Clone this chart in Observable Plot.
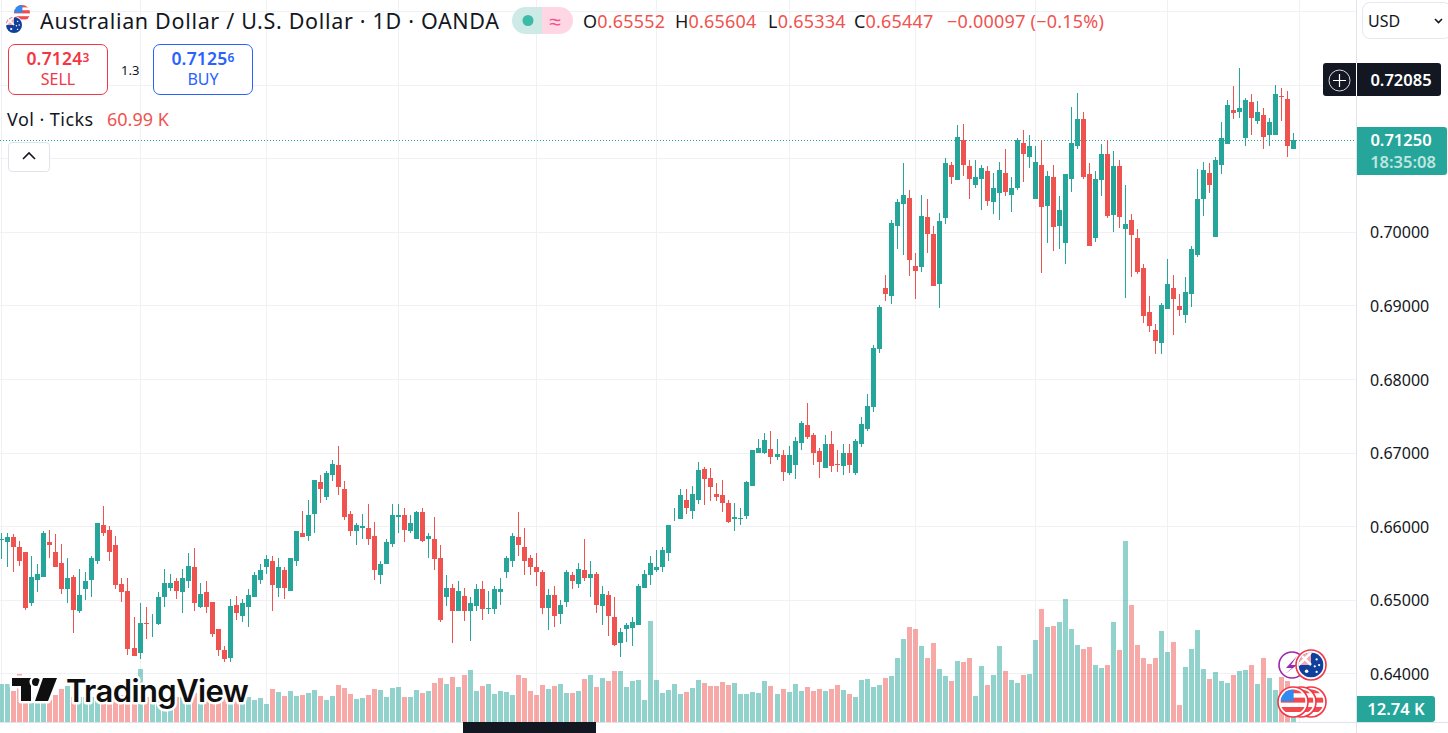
<!DOCTYPE html>
<html><head><meta charset="utf-8">
<script src="https://cdn.jsdelivr.net/npm/d3@7"></script>
<script src="https://cdn.jsdelivr.net/npm/@observablehq/plot@0.6"></script>
<style>
html,body{margin:0;padding:0;background:#fff}
#app{position:relative;width:1448px;height:733px;overflow:hidden;font-family:"Noto Sans",sans-serif;color:#131722}
#app svg.plot{position:absolute;left:0;top:0;background:transparent}
.a{position:absolute;white-space:nowrap;line-height:1}
.box{position:absolute;box-sizing:border-box;background:#fff}
</style></head><body><div id="app"></div>
<script>
// Prices in pips (0.0001), one entry per daily candle, oldest first
const highs=[6591,6590,6589,6580,6565,6559,6549,6593,6595,6589,
6576,6556,6534,6542,6538,6559,6604,6627,6600,6587,
6530,6530,6477,6495,6490,6480,6510,6542,6535,6530,
6542,6564,6570,6523,6525,6497,6460,6437,6501,6505,
6501,6514,6538,6549,6561,6560,6557,6545,6557,6593,
6620,6636,6662,6670,6675,6690,6709,6661,6620,6604,
6616,6630,6605,6552,6582,6630,6630,6625,6615,6621,
6625,6590,6613,6574,6534,6522,6525,6516,6503,6522,
6526,6512,6519,6530,6560,6591,6619,6598,6561,6563,
6541,6514,6519,6500,6541,6538,6550,6582,6552,6538,
6519,6512,6503,6462,6469,6477,6522,6541,6560,6567,
6571,6602,6625,6650,6650,6655,6687,6680,6679,6658,
6662,6636,6632,6625,6661,6703,6718,6726,6729,6719,
6703,6709,6721,6743,6767,6726,6706,6724,6729,6703,
6711,6711,6718,6748,6780,6846,6901,6941,7016,7044,
7094,7056,6971,7050,7044,7008,7026,7100,7095,7145,
7147,7098,7097,7090,7089,7080,7095,7113,7074,7127,
7138,7132,7117,7123,7083,7090,7048,7078,7169,7188,
7162,7093,7083,7119,7125,7109,7098,7063,7024,7004,
6956,6913,6875,6903,6963,6941,6915,6939,6980,7085,
7095,7094,7101,7149,7179,7198,7222,7181,7187,7177,
7168,7155,7200,7195,7191,7134];
const lows=[6555,6544,6538,6546,6486,6492,6511,6531,6557,6544,
6508,6496,6455,6482,6499,6504,6549,6587,6552,6514,
6497,6425,6424,6420,6447,6450,6466,6490,6512,6501,
6482,6516,6484,6489,6482,6450,6424,6415,6415,6473,
6470,6463,6503,6522,6535,6484,6503,6501,6512,6546,
6585,6580,6591,6632,6636,6661,6642,6608,6587,6575,
6582,6575,6527,6522,6548,6572,6590,6578,6590,6583,
6579,6557,6541,6470,6492,6441,6484,6471,6444,6485,
6473,6480,6480,6493,6529,6545,6559,6533,6534,6518,
6481,6459,6463,6467,6490,6515,6516,6525,6504,6482,
6466,6451,6437,6422,6443,6437,6466,6516,6520,6538,
6537,6553,6607,6609,6616,6609,6630,6628,6634,6634,
6619,6604,6593,6602,6609,6655,6699,6698,6684,6690,
6661,6669,6664,6704,6718,6683,6665,6679,6674,6674,
6669,6672,6669,6707,6729,6755,6835,6906,6902,6977,
6969,6940,6909,6945,6971,6926,6896,7011,7065,7070,
7076,7044,7059,7029,7035,7024,7016,7049,7027,7057,
7067,7087,7044,6944,6985,6974,6977,6956,7054,7113,
7072,6980,6986,7049,7019,7000,7005,6910,6939,6943,
6876,6864,6834,6834,6895,6860,6885,6876,6898,6966,
7022,7053,6993,7078,7119,7153,7154,7117,7131,7147,
7112,7116,7131,7151,7102,7112];
const opens=[6581,6578,6585,6572,6565,6496,6527,6531,6579,6565,
6550,6515,6531,6484,6515,6527,6553,6601,6595,6575,
6522,6512,6435,6428,6468,6472,6467,6504,6516,6525,
6510,6526,6545,6490,6511,6497,6460,6432,6421,6493,
6478,6490,6503,6527,6545,6552,6516,6540,6512,6552,
6590,6586,6617,6660,6640,6669,6683,6651,6617,6594,
6598,6598,6586,6534,6549,6576,6613,6615,6594,6583,
6619,6582,6583,6557,6504,6516,6485,6505,6484,6492,
6515,6488,6488,6510,6538,6552,6585,6571,6556,6545,
6537,6489,6507,6480,6497,6534,6522,6541,6529,6535,
6492,6507,6476,6441,6460,6462,6466,6516,6533,6540,
6544,6563,6609,6610,6636,6620,6636,6677,6666,6644,
6642,6632,6609,6610,6614,6655,6699,6700,6705,6694,
6696,6672,6683,6713,6737,6724,6702,6679,6711,6684,
6681,6699,6672,6711,6732,6762,6840,6924,6913,7008,
7037,7046,6954,6952,7020,6997,6929,7019,7090,7070,
7124,7089,7064,7071,7083,7041,7053,7080,7050,7060,
7121,7102,7045,7091,7035,7074,7008,6985,7072,7117,
7153,7079,6992,7070,7105,7023,7089,7003,7016,6992,
6951,6891,6866,6849,6895,6924,6899,6887,6915,6969,
7044,7080,6993,7091,7119,7165,7162,7127,7176,7150,
7158,7132,7131,7184,7180,7112];
const closes=[6583,6585,6571,6553,6489,6531,6535,6590,6575,6545,
6514,6529,6486,6507,6525,6556,6604,6590,6565,6520,
6510,6433,6424,6469,6467,6473,6504,6523,6523,6512,
6530,6546,6495,6508,6490,6454,6432,6420,6492,6482,
6495,6507,6533,6540,6555,6520,6545,6516,6557,6593,
6585,6615,6662,6650,6672,6685,6653,6612,6593,6601,
6600,6583,6540,6548,6578,6615,6615,6595,6604,6619,
6580,6587,6555,6473,6516,6485,6512,6484,6496,6514,
6488,6489,6514,6515,6557,6586,6574,6553,6544,6537,
6489,6507,6478,6493,6537,6526,6542,6530,6535,6493,
6508,6478,6439,6456,6466,6470,6519,6535,6550,6545,
6567,6602,6610,6642,6624,6643,6676,6664,6653,6640,
6632,6606,6613,6611,6660,6703,6706,6717,6694,6698,
6673,6696,6715,6740,6721,6699,6687,6711,6681,6683,
6700,6683,6715,6739,6763,6842,6898,6915,7012,7041,
7050,6962,6947,7022,6997,6926,7014,7094,7074,7128,
7090,7072,7074,7086,7042,7059,7084,7054,7059,7124,
7105,7116,7095,7033,7076,7007,7030,7078,7120,7153,
7075,6980,7072,7105,7022,7089,7020,7011,6996,6945,
6885,6872,6851,6900,6929,6909,6894,6918,6977,7044,
7084,7063,7097,7127,7172,7161,7168,7179,7154,7162,
7128,7149,7187,7183,7116,7125];
// Tick volume, thousands
const volumes=[74.8,74.8,61.7,94.5,66.3,49.9,53.1,56.4,43.3,53.1,
64.9,70.8,49.9,49.9,49.9,49.9,46.6,53.1,49.9,56.4,
53.1,59.7,49.9,104.3,49.9,49.9,49.9,46.6,46.6,49.9,
49.9,56.4,56.4,49.9,49.9,49.9,46.6,49.9,46.6,49.9,
49.9,49.9,43.3,47.2,35.4,64.9,59.0,51.2,61.0,51.2,
53.1,57.1,63.0,51.2,43.3,51.2,72.8,66.9,55.1,45.3,
47.2,53.1,64.9,63.0,49.2,66.9,68.9,49.2,49.2,63.0,
57.1,61.0,76.8,86.6,74.8,88.6,68.9,92.5,102.3,61.0,
70.8,74.8,55.1,61.0,59.0,53.1,92.5,86.6,60.99,53.1,
72.8,64.9,70.8,74.8,57.1,57.1,61.0,84.6,92.5,68.9,
86.6,80.7,100.4,100.4,68.9,80.7,82.7,43.3,198.8,82.7,
57.1,63.0,74.8,55.1,59.0,66.9,82.7,76.8,70.8,70.8,
78.7,72.8,76.8,55.1,55.1,59.0,57.1,80.7,70.8,55.1,
64.9,59.0,74.8,61.0,68.9,61.0,64.9,61.0,64.9,72.8,
63.0,55.1,49.2,82.7,84.6,68.9,72.8,86.6,90.5,126.0,
163.3,187.0,183.0,149.6,126.0,155.5,104.3,90.5,80.7,120.0,
118.1,126.0,51.2,110.2,72.8,92.5,149.6,100.4,82.7,76.8,
92.5,94.5,161.4,222.4,187.0,188.9,196.8,242.1,183.0,151.5,
143.7,147.6,112.2,106.3,112.2,196.8,141.7,356.2,230.3,151.5,
126.0,114.1,126.0,179.1,137.8,157.4,33.5,108.2,143.7,181.1,
104.3,84.6,98.4,80.7,76.8,92.5,100.4,102.3,112.2,74.8,
126.0,86.6,63.0,88.6,80.7,12.74];
const priceTicks=[0.64,0.65,0.66,0.67,0.68,0.69,0.70];
const gridPrices=[0.64,0.65,0.66,0.67,0.68,0.69,0.70,0.71,0.72,0.73];
const gridCandles=[0,23,44,66,89,109,131,152,172,194,216];
const lastPrice=0.7125;

const UP="#26a69a",DOWN="#ef5350",GRID="#f0f1f4";
const candles=d3.range(highs.length).map(i=>({i,h:highs[i]/1e4,l:lows[i]/1e4,o:opens[i]/1e4,c:closes[i]/1e4,v:volumes[i]}));
const col=d=>d.c>=d.o?UP:DOWN;
const W=1448,H=733;
const xScale={type:"linear",domain:[0,215],range:[1.3,1293.3]};
const crisp={shapeRendering:"crispEdges"};

const price=Plot.plot({
  width:W,height:H,margin:0,marginRight:91.5,marginBottom:11,
  className:"plot",style:{background:"transparent",overflow:"visible"},
  x:{...xScale,axis:null},
  y:{type:"linear",domain:[0.64,0.70],range:[673.3,231.7]},
  marks:[
    Plot.ruleX(gridCandles,{stroke:GRID,strokeWidth:1,...crisp}),
    Plot.ruleY(gridPrices,{stroke:GRID,strokeWidth:1,...crisp}),
    Plot.axisY({anchor:"right",ticks:priceTicks,tickSize:0,tickPadding:13,dy:1,tickFormat:d3.format(".5f"),fontSize:16,fill:"#131722",label:null,fontFamily:"Noto Sans"}),
    Plot.ruleY([lastPrice],{stroke:UP,strokeWidth:1,strokeDasharray:"1 2",...crisp}),
    Plot.ruleX(candles,{x:"i",y1:"l",y2:"h",stroke:col,strokeWidth:1,...crisp}),
    Plot.ruleX(candles,{x:"i",y1:"o",y2:"c",stroke:col,strokeWidth:5,...crisp})
  ]
});
const volume=Plot.plot({
  width:W,height:H,margin:0,marginRight:91.5,marginBottom:11,
  className:"plot",style:{background:"transparent",overflow:"visible"},
  x:{...xScale,axis:null},
  y:{type:"linear",domain:[0,100],range:[722,671.2],axis:null},
  marks:[
    Plot.ruleX(candles,{x:"i",y1:0,y2:"v",stroke:col,strokeOpacity:0.5,strokeWidth:5,...crisp})
  ]
});
const app=document.getElementById("app");
app.append(price,volume);

function el(cls,css,html){const d=document.createElement("div");d.className=cls;d.style.cssText=css;if(html!=null)d.innerHTML=html;app.append(d);return d;}
function svgEl(css,vb,inner){const d=document.createElement("div");d.style.cssText="position:absolute;"+css;d.innerHTML=`<svg xmlns="http://www.w3.org/2000/svg" viewBox="${vb}" width="100%" height="100%" style="display:block">${inner}</svg>`;app.append(d);}

// chrome lines
el("a","left:1356px;top:0;width:1px;height:733px;background:#e0e3eb");
el("a","left:0;top:722px;width:1448px;height:1px;background:#e0e3eb");
el("a","left:463px;top:722px;width:133px;height:11px;background:#131722");

// flags
const usFlag=(cx,cy,r,id)=>`<clipPath id="${id}"><circle cx="${cx}" cy="${cy}" r="${r}"/></clipPath><g clip-path="url(#${id})"><rect x="${cx-r}" y="${cy-r}" width="${2*r}" height="${2*r}" fill="#fff"/><rect x="${cx-r}" y="${cy-r*0.35}" width="${2*r}" height="${r*0.4}" fill="#f04a4f"/><rect x="${cx-r}" y="${cy+r*0.4}" width="${2*r}" height="${r*0.4}" fill="#f04a4f"/><rect x="${cx-r}" y="${cy-r*1.05}" width="${2*r}" height="${r*0.35}" fill="#f04a4f"/><rect x="${cx-r}" y="${cy-r}" width="${r*1.05}" height="${r*0.95}" fill="#2f8bf0"/></g>`;
const auFlag=(cx,cy,r,id)=>`<clipPath id="${id}"><circle cx="${cx}" cy="${cy}" r="${r}"/></clipPath><g clip-path="url(#${id})"><rect x="${cx-r}" y="${cy-r}" width="${2*r}" height="${2*r}" fill="#11409c"/><rect x="${cx-r}" y="${cy-r}" width="${r}" height="${r}" fill="#f3a9b4"/><path d="M${cx-r} ${cy-r}L${cx} ${cy}M${cx} ${cy-r}L${cx-r} ${cy}" stroke="#fff" stroke-width="${r*0.2}"/></g><g fill="#fff"><circle cx="${cx+r*0.45}" cy="${cy-r*0.45}" r="${r*0.09}"/><circle cx="${cx+r*0.65}" cy="${cy}" r="${r*0.09}"/><circle cx="${cx+r*0.3}" cy="${cy+r*0.1}" r="${r*0.09}"/><circle cx="${cx+r*0.45}" cy="${cy+r*0.55}" r="${r*0.09}"/><circle cx="${cx-r*0.35}" cy="${cy+r*0.5}" r="${r*0.14}"/></g>`;
svgEl("left:4px;top:2px;width:34px;height:34px","0 0 34 34",usFlag(18,11,8,"u0")+`<circle cx="10" cy="23" r="9" fill="#fff"/>`+auFlag(10,23,8,"a0"));

// header
el("a","left:40px;top:9px;font-size:21.5px;letter-spacing:0.68px;color:#131722;line-height:24px","Australian Dollar / U.S. Dollar · 1D · OANDA");
svgEl("left:512px;top:7px;width:61px;height:27px","0 0 61 27",`<path d="M13.5 0H30V27H13.5A13.5 13.5 0 0 1 13.5 0Z" fill="#cdeae6"/><path d="M30 0H47.5A13.5 13.5 0 0 1 47.5 27H30Z" fill="#ffd6e4"/><circle cx="16" cy="13.5" r="5.5" fill="#3dbba6"/>`);
el("a","left:542px;top:9px;width:26px;text-align:center;font-size:21px;line-height:24px;color:#f2508c","≈");
const R="#ef5350";
const ohlc=[["O","0.65552",583],["H","0.65604",675],["L","0.65334",768],["C","0.65447",854]];
ohlc.forEach(([k,v,x])=>el("a",`left:${x}px;top:11px;font-size:18px;letter-spacing:0.2px;line-height:20px;color:${R}`,`<span style="color:#131722">${k}</span>${v}`));
el("a",`left:947px;top:11px;font-size:18px;letter-spacing:0.22px;line-height:20px;color:${R}`,"−0.00097 (−0.15%)");

// sell / buy
el("box","left:8px;top:44px;width:100px;height:51px;border:1px solid #f23645;border-radius:7px");
el("box","left:153px;top:44px;width:100px;height:51px;border:1px solid #2962ff;border-radius:7px");
el("a","left:8px;width:100px;text-align:center;top:49px;font-size:17.5px;letter-spacing:.2px;line-height:18px;font-weight:600;color:#f23645",'0.7124<span style="font-size:12px;vertical-align:3px">3</span>');
el("a","left:8px;width:100px;text-align:center;top:70px;font-size:16px;line-height:18px;color:#f23645","SELL");
el("a","left:153px;width:100px;text-align:center;top:49px;font-size:17.5px;letter-spacing:.2px;line-height:18px;font-weight:600;color:#2962ff",'0.7125<span style="font-size:12px;vertical-align:3px">6</span>');
el("a","left:153px;width:100px;text-align:center;top:70px;font-size:16px;line-height:18px;color:#2962ff","BUY");
el("a","left:121px;top:62px;font-size:13px;line-height:16px;color:#131722","1.3");

// volume legend
el("a","left:7px;top:109px;font-size:18px;letter-spacing:0.45px;line-height:20px;color:#131722","Vol · Ticks");
el("a",`left:107px;top:109px;font-size:18px;line-height:20px;color:${R}`,"60.99 K");
el("box","left:8px;top:142px;width:42px;height:30px;border:1px solid #e0e3eb;border-radius:4px");
svgEl("left:21px;top:151px;width:16px;height:10px","0 0 16 10",`<path d="M2 8L8 2L14 8" fill="none" stroke="#131722" stroke-width="1.6"/>`);

// right side
el("box","left:1362px;top:2px;width:90px;height:37px;border:1px solid #e6e8ee;border-radius:8px");
el("a","left:1368px;top:11px;font-size:16px;line-height:20px;color:#131722","USD");
svgEl("left:1433px;top:17px;width:11px;height:8px","0 0 11 8",`<path d="M2 2L5.5 5.5L9 2" fill="none" stroke="#131722" stroke-width="1.6"/>`);
el("a","left:1323px;top:63px;width:118px;height:33px;background:#131722;border-radius:3px");
el("a","left:1356px;top:63px;width:1px;height:33px;background:#fff");
svgEl("left:1328px;top:69px;width:23px;height:23px","0 0 23 23",`<circle cx="11.5" cy="11.5" r="10.5" fill="none" stroke="#d8dae0" stroke-width="1"/><path d="M11.5 5V18M5 11.5H18" stroke="#fff" stroke-width="1.2"/>`);
el("a","left:1357px;width:88px;text-align:center;top:70px;font-size:16.5px;line-height:20px;font-weight:600;color:#fff","0.72085");
el("a","left:1357px;top:127px;width:90px;height:48px;background:#26a69a;border-radius:0 3px 3px 0");
el("a","left:1357px;width:88px;text-align:center;top:130px;font-size:16.5px;line-height:20px;font-weight:600;color:#fff","0.71250");
el("a","left:1357px;width:92px;text-align:center;top:152px;font-size:16.5px;line-height:20px;font-weight:600;color:#bfe5e0","18:35:08");
el("a","left:1357px;top:696px;width:78px;height:26px;background:#26a69a;border-radius:0 3px 3px 0");
el("a","left:1357px;width:78px;text-align:center;top:699px;font-size:16.5px;line-height:20px;font-weight:600;color:#fff","12.74 K");

// logo
svgEl("left:8px;top:672px;width:248px;height:42px","0 0 248 42",`<g stroke="#fff" stroke-width="5" stroke-linejoin="round" paint-order="stroke" fill="#0f0f0f"><path d="M4 6H23V29H13V14H4Z"/><circle cx="28" cy="10" r="4"/><path d="M35 6H49L40 29H27Z"/></g><text x="58" y="30" font-family="Inter" font-weight="600" font-size="31" letter-spacing="-0.6" fill="#0f0f0f" stroke="#fff" stroke-width="5" stroke-linejoin="round" paint-order="stroke">TradingView</text>`);

// event icons
svgEl("left:1270px;top:645px;width:60px;height:75px","0 0 60 75",`<circle cx="22" cy="20" r="13" fill="#fff" stroke="#9c27b0" stroke-width="1.6"/><path d="M27 11L16 23H22L15 29L27 20H21Z" fill="#9c27b0"/><circle cx="41" cy="20" r="15" fill="#fff" stroke="#f23645" stroke-width="1.6"/>${auFlag(41,20,12.5,"a1")}<circle cx="41" cy="57" r="15" fill="#fff" stroke="#f23645" stroke-width="1.6"/>${usFlag(41,57,12.5,"u1")}<circle cx="31" cy="57" r="15" fill="#fff" stroke="#f23645" stroke-width="1.6"/>${usFlag(31,57,12.5,"u2")}<circle cx="23" cy="57" r="15" fill="#fff" stroke="#f23645" stroke-width="1.6"/>${usFlag(23,57,12.5,"u3")}`);
</script></body></html>
